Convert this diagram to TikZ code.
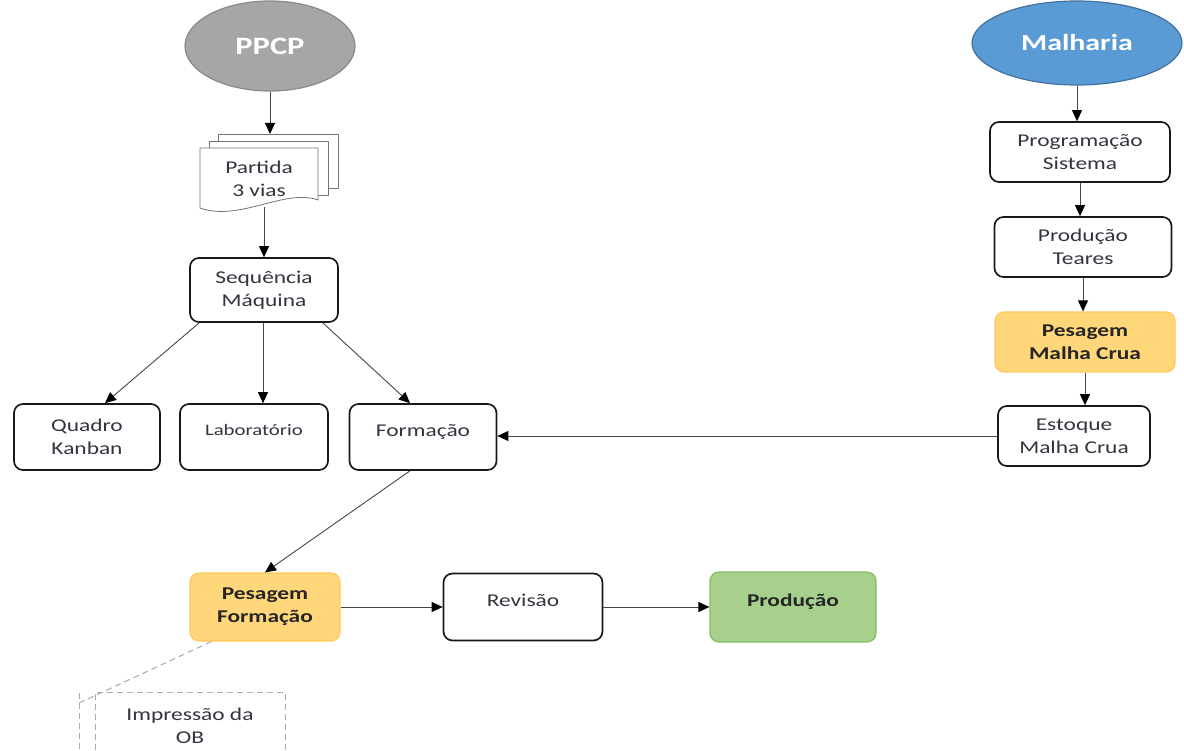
\documentclass[tikz,border=0pt]{standalone}
\usepackage{fontspec}
\setmainfont{Carlito}[FakeStretch=1.3]
\usetikzlibrary{shapes.geometric,arrows.meta}
\definecolor{ppcpgray}{RGB}{166,166,166}
\definecolor{ppcpedge}{RGB}{137,137,137}
\definecolor{malhablue}{RGB}{91,155,213}
\definecolor{malhaedge}{RGB}{65,113,156}
\definecolor{pesoorange}{RGB}{255,214,122}
\definecolor{pesoedge}{RGB}{255,201,90}
\definecolor{prodgreen}{RGB}{168,208,141}
\definecolor{prodedge}{RGB}{134,190,98}
\definecolor{boxtext}{RGB}{52,52,64}
\definecolor{flowline}{RGB}{70,70,70}
\definecolor{notegray}{RGB}{170,170,170}

\begin{document}
\begin{tikzpicture}[x=1pt,y=-1pt,line join=round,
    every node/.style={align=center,text=boxtext,font=\fontsize{18}{23}\selectfont},
    start/.style={ellipse,line width=1.2pt,text=white,font=\fontsize{23}{26}\selectfont\bfseries},
    stepbox/.style={draw=black!90,line width=1.7pt,rounded corners=9pt,fill=white},
    weighbox/.style={draw=pesoedge,fill=pesoorange,line width=1.2pt,rounded corners=9pt,text=black!85,font=\fontsize{18}{23}\selectfont\bfseries},
    donebox/.style={draw=prodedge,fill=prodgreen,line width=1.2pt,rounded corners=9pt,text=black!85,font=\fontsize{18}{23}\selectfont\bfseries},
    uptext/.style={text depth=14pt},
    sheet/.style={draw=black!55,fill=white,line width=0.8pt},
    notedash/.style={draw=notegray,dash pattern=on 6pt off 4pt,line width=1pt},
    flow/.style={draw=flowline,line width=0.9pt,-{Triangle[length=11pt,width=10pt,color=black]}}]
    \useasboundingbox (0,0) rectangle (1184,751);
    \clip (0,0) rectangle (1184,751);
    \node[start,draw=ppcpedge,fill=ppcpgray,minimum width=170pt,minimum height=90pt,font=\fontsize{25}{28}\selectfont\bfseries] (ppcp) at (270,46) {PPCP};
    \node[start,draw=malhaedge,fill=malhablue,minimum width=210pt,minimum height=84pt] (malharia) at (1077,43) {Malharia};
    \draw[sheet] (218,134) rectangle (338,188);
    \draw[sheet] (209,141) rectangle (328,195);
    \draw[sheet] (200,148) -- (318,148) -- (318,200) .. controls (285,188) and (240,222) .. (200,208) -- cycle;
    \coordinate (stacktop) at (270,134);
    \node[minimum width=118pt,minimum height=56pt] (partida) at (259,179) {Partida\\3 vias};
    \node[stepbox,minimum width=148pt,minimum height=64pt] (seq) at (264,290) {Sequência\\Máquina};
    \node[stepbox,minimum width=146pt,minimum height=66pt] (quadro) at (87,437) {Quadro\\Kanban};
    \node[stepbox,uptext,minimum width=148pt,minimum height=66pt,font=\fontsize{16}{20}\selectfont] (lab) at (254,437) {Laboratório};
    \node[stepbox,uptext,minimum width=147pt,minimum height=66pt] (formacao) at (423,437) {Formação};
    \node[stepbox,minimum width=180pt,minimum height=60pt] (prog) at (1080,152) {Programação\\Sistema};
    \node[stepbox,minimum width=177pt,minimum height=60pt] (teares) at (1083,247) {Produção\\Teares};
    \node[weighbox,minimum width=180pt,minimum height=60pt] (pesmc) at (1085,342) {Pesagem\\Malha Crua};
    \node[stepbox,minimum width=152pt,minimum height=60pt] (estoque) at (1074,436) {Estoque\\Malha Crua};
    \node[weighbox,minimum width=150pt,minimum height=68pt] (pesform) at (265,607) {Pesagem\\Formação};
    \node[stepbox,uptext,minimum width=159pt,minimum height=67pt] (revisao) at (523,607) {Revisão};
    \node[donebox,uptext,minimum width=166pt,minimum height=70pt] (producao) at (793,607) {Produção};
    \node[notedash,minimum width=190pt,minimum height=68pt] (impressao) at (190,726) {Impressão da\\OB};
    \coordinate (notetop) at (79,693);
    \coordinate (notebot) at (79,760);
    \coordinate (notetick) at (79,703);
    \draw[flow] (ppcp) -- (stacktop);
    \draw[flow] (seq.north |- partida.south) -- (seq.north);
    \draw[flow] ([xshift=10pt]seq.south west) -- ([xshift=18pt]quadro.north);
    \draw[flow] (seq.south -| lab.north) ++(9,0) -- ([xshift=9pt]lab.north);
    \draw[flow] ([xshift=-16pt]seq.south east) -- ([xshift=-13pt]formacao.north);
    \draw[flow] (malharia.south) -- (malharia.south |- prog.north);
    \draw[flow] (prog.south) -- (prog.south |- teares.north);
    \draw[flow] (teares.south) -- (teares.south |- pesmc.north);
    \draw[flow] (pesmc.south) -- (pesmc.south |- estoque.north);
    \draw[flow] (estoque.west) -- (estoque.west -| formacao.east);
    \draw[flow] ([xshift=-13pt]formacao.south) -- (pesform.north);
    \draw[flow] (pesform.east) -- (revisao.west);
    \draw[flow] (revisao.east) -- (producao.west);
    \draw[notedash] ([xshift=22pt]pesform.south west) -- (notetick);
    \draw[notedash] (notetop) -- (notebot);
  \end{tikzpicture}
\end{document}
